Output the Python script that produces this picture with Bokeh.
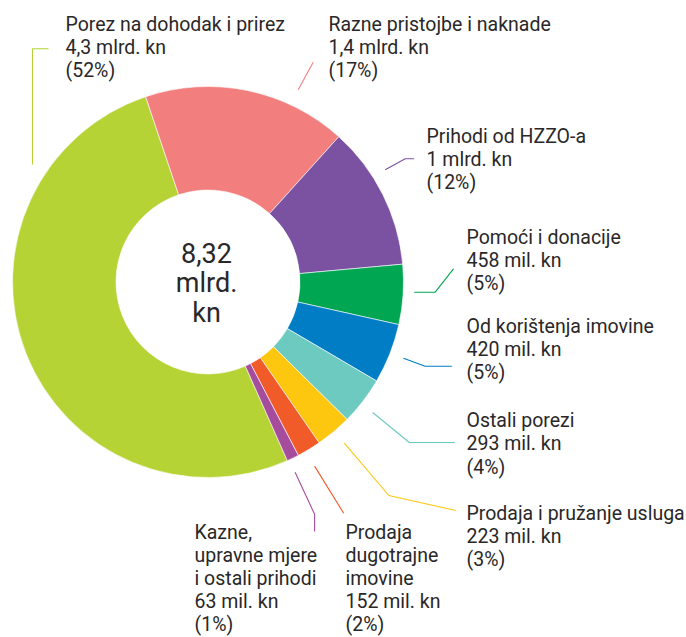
import math
from bokeh.plotting import figure
from bokeh.models import Range1d, ColumnDataSource
from bokeh.core.properties import value
from bokeh.embed import file_html
from bokeh.resources import INLINE

# ---- data ----
categories = [
    "Porez na dohodak i prirez",
    "Razne pristojbe i naknade",
    "Prihodi od HZZO-a",
    "Pomoći i donacije",
    "Od korištenja imovine",
    "Ostali porezi",
    "Prodaja i pružanje usluga",
    "Prodaja\ndugotrajne\nimovine",
    "Kazne,\nupravne mjere\ni ostali prihodi",
]
amount_labels = [
    "4,3 mlrd. kn", "1,4 mlrd. kn", "1 mlrd. kn", "458 mil. kn", "420 mil. kn",
    "293 mil. kn", "223 mil. kn", "152 mil. kn", "63 mil. kn",
]
percents = [52, 17, 12, 5, 5, 4, 3, 2, 1]
total_label = ["8,32", "mlrd.", "kn"]

colors = ["#b5d334", "#f27f7e", "#7b52a1", "#00a651", "#007dc5",
          "#6dcac1", "#fdc70f", "#f15a29", "#a54c9d"]

# ---- layout ----
W, H = 686, 637


def sy(y):
    """screen y (px from picture top) -> data y"""
    return H - y


CX, CY = 207.5, sy(281.5)
R_OUT, R_IN = 195.5, 92.0
START_DEG = 108.6  # boundary angle between first and second wedge (counter-clockwise from +x)

FONT = value("Roboto")
TXT = "#2a2728"
FS = 19.5
LINE = 23.1
BASE_SHIFT = 0.36  # compensation of the baseline placement, in em

p = figure(width=W, height=H, output_backend="svg", toolbar_location=None,
           x_range=Range1d(0, W), y_range=Range1d(0, H),
           min_border=0)
p.axis.visible = False
p.grid.visible = False
p.outline_line_color = None
p.background_fill_color = "white"
p.border_fill_color = "white"

# wedge angles from the percentages (clockwise)
tot = float(sum(percents))
spans = [pc / tot * 2 * math.pi for pc in percents]
a0 = math.radians(START_DEG) + spans[0]
starts, ends = [], []
a = a0
for s in spans:
    starts.append(a)
    ends.append(a - s)
    a -= s

src = ColumnDataSource(dict(start=starts, end=ends, color=colors))
p.annular_wedge(x=CX, y=CY, inner_radius=R_IN, outer_radius=R_OUT,
                start_angle="start", end_angle="end", direction="clock",
                fill_color="color", line_color="white", line_width=0.6,
                source=src)

# centre text
CFS = 27
for i, t in enumerate(total_label):
    p.text(x=[206], y=[sy(262.5 + i * 30 - BASE_SHIFT * CFS)], text=[t],
           text_font=FONT, text_font_size="%gpx" % CFS, text_align="center",
           text_baseline="alphabetic", text_color=TXT)

# label anchors (left x, first baseline in screen px)
anchors = [(65, 31), (328, 31), (426, 143.3), (466, 244.3), (466, 333.3),
           (466, 427.4), (466, 519.7), (345, 539), (194, 539)]

leaders = [
    [(48, 48.3), (32, 48.3), (32, 164)],
    [(297.7, 89.3), (312.7, 61.7)],
    [(384.7, 169.3), (404.7, 158.3), (413.7, 158.3)],
    [(413.7, 291.7), (434.7, 291.7), (453, 268.3)],
    [(403, 357.7), (424.7, 365.7), (451.3, 365.7)],
    [(372.2, 412), (408.8, 442), (454.3, 442)],
    [(343.8, 442.7), (388.3, 495), (455.3, 510)],
    [(314.1, 465.6), (343.2, 512.8)],
    [(294.6, 471.8), (314.1, 513.8), (314.1, 531)],
]

for i in range(len(categories)):
    lines = categories[i].split("\n") + [amount_labels[i], "(%d%%)" % percents[i]]
    ax, ay = anchors[i]
    xs = [ax] * len(lines)
    ys = [sy(ay + k * LINE - BASE_SHIFT * FS) for k in range(len(lines))]
    p.text(x=xs, y=ys, text=lines, text_font=FONT, text_font_size="%gpx" % FS,
           text_align="left", text_baseline="alphabetic", text_color=TXT)
    pts = leaders[i]
    p.line(x=[q[0] for q in pts], y=[sy(q[1]) for q in pts],
           line_color=colors[i], line_width=1.1)

open("out.html", "w").write(file_html(p, INLINE))
